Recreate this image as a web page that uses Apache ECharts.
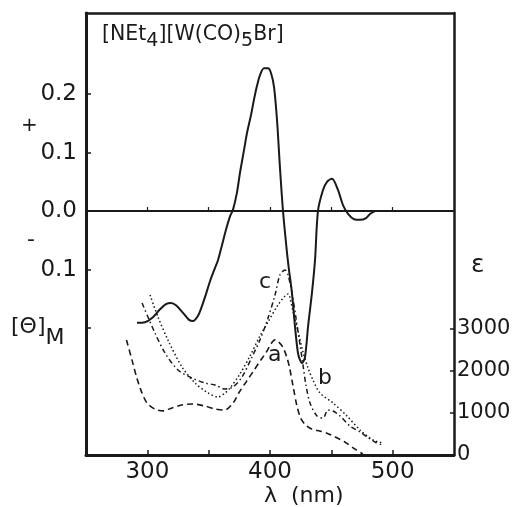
<!DOCTYPE html>
<html>
<head>
<meta charset="utf-8">
<script src="https://cdn.jsdelivr.net/npm/echarts@6/dist/echarts.min.js"></script>
<style>
  html, body { margin: 0; padding: 0; background: #fff; }
  #chart { width: 519px; height: 507px; }
</style>
</head>
<body>
<div id="chart"></div>
<script>
// CD spectrum [Θ]M, pairs of [nm, value]
const cdCurve = [
  [291.6, -0.191], [298.1, -0.190], [303.8, -0.183], [310.3, -0.168], [315.2, -0.159],
  [319.3, -0.157], [323.4, -0.161], [329.1, -0.174], [334.0, -0.186], [337.2, -0.188],
  [341.3, -0.179], [344.6, -0.162], [347.8, -0.142], [351.1, -0.120], [355.2, -0.097],
  [357.6, -0.084], [360.9, -0.058], [364.1, -0.032], [367.4, -0.009], [369.8, 0.002],
  [373.1, 0.032], [375.5, 0.065], [378.8, 0.104], [381.2, 0.133], [384.5, 0.164],
  [386.9, 0.190], [389.4, 0.214], [391.8, 0.232], [395.1, 0.244], [398.4, 0.244],
  [400.8, 0.236], [403.3, 0.212], [405.7, 0.156], [408.1, 0.075], [410.6, 0.000],
  [413.9, -0.072], [415.5, -0.101], [417.9, -0.140], [420.4, -0.198], [422.8, -0.243],
  [424.5, -0.255], [426.1, -0.260], [428.5, -0.250], [431.0, -0.198], [434.2, -0.140],
  [436.7, -0.084], [439.1, 0.000], [443.2, 0.036], [446.5, 0.050], [450.5, 0.055],
  [455.4, 0.036], [459.5, 0.010], [463.6, -0.005], [468.5, -0.014], [473.4, -0.015],
  [478.3, -0.012], [481.5, -0.005], [485.6, 0.000]
];

// absorption spectra, epsilon
const curveA = [
  [283, 2740], [287.5, 2260], [291.5, 1830], [295.6, 1480], [299.7, 1240], [306, 1095],
  [313, 1050], [320, 1120], [328, 1190], [337, 1215], [347, 1165], [355, 1095],
  [363, 1070], [370, 1240], [375, 1500], [381, 1760], [387, 2020], [392, 2240],
  [396.6, 2430], [400.7, 2640], [404, 2740], [407, 2690], [410.4, 2570], [413.7, 2330],
  [416, 2070], [418.6, 1670], [421.8, 1190], [425, 880], [429, 715], [434, 620],
  [440.6, 570], [446, 525], [453, 430], [461, 310], [469, 145], [475.6, 25]
];
const curveB = [
  [302.2, 3810], [308.7, 3286], [316.8, 2738], [328.3, 2095], [338.9, 1714], [349.5, 1476],
  [357.6, 1381], [363.3, 1476], [367.4, 1595], [375.5, 1929], [383.7, 2357], [391.8, 2833],
  [398.4, 3167], [406.5, 3571], [412.2, 3786], [414.7, 3833], [418.7, 3429], [422.8, 2952],
  [426.9, 2452], [431.0, 2071], [435.0, 1786], [440.8, 1476], [451.4, 1238], [462.8, 929],
  [473.4, 595], [484.0, 357], [492.1, 286]
];
const curveC = [
  [295.7, 3619], [300.5, 3286], [306.2, 2905], [314.4, 2429], [325.0, 2024], [336.4, 1833],
  [347.0, 1714], [355.2, 1667], [363.3, 1571], [369.8, 1619], [377.2, 1857], [385.3, 2333],
  [391.8, 2738], [398.4, 3262], [404.1, 3810], [408.1, 4286], [412.2, 4405], [414.7, 4286],
  [417.9, 3857], [421.2, 3262], [424.5, 2619], [426.9, 2143], [429.3, 1667], [432.6, 1238],
  [438.3, 929], [443.2, 881], [447.3, 1071], [451.4, 1048], [457.1, 929], [465.2, 690],
  [473.4, 548], [479.1, 429], [485.6, 310], [491.3, 238]
];

const xTicks = [300, 350, 400, 450, 500];
const xLabels = [300, 400, 500];
const cdTicks = [0.2, 0.1, 0, -0.1, -0.2];
const cdLabels = [0.2, 0.1, 0, -0.1];
const epsTicks = [0, 1000, 2000, 3000];

const ink = '#1a1a1a';
const font = 'DejaVu Sans';

const chart = echarts.init(document.getElementById('chart'));

const option = {
  backgroundColor: '#fff',
  animation: false,
  textStyle: { fontFamily: font, color: ink },
  grid: { left: 86, top: 13, width: 368, height: 442, containLabel: false },
  xAxis: [
    {
      type: 'value', position: 'bottom', min: 250, max: 550,
      axisLine: { onZero: false, lineStyle: { color: ink, width: 3 } },
      axisTick: { inside: true, length: 5, customValues: xTicks, lineStyle: { color: ink, width: 1.5 } },
      axisLabel: { customValues: xLabels, fontSize: 23, color: ink, margin: 6, fontFamily: font },
      splitLine: { show: false }
    },
    {
      type: 'value', position: 'top', min: 250, max: 550,
      axisLine: { onZero: false, lineStyle: { color: ink, width: 2.5 } },
      axisTick: { show: false }, axisLabel: { show: false }, splitLine: { show: false }
    },
    {
      // zero line of the CD axis
      type: 'value', position: 'bottom', min: 250, max: 550,
      axisLine: { onZero: true, onZeroAxisIndex: 0, lineStyle: { color: ink, width: 2 } },
      axisTick: { inside: true, length: 4, customValues: xTicks, lineStyle: { color: ink, width: 1.2 } },
      axisLabel: { show: false }, splitLine: { show: false }
    }
  ],
  yAxis: [
    {
      type: 'value', position: 'left', min: -0.417, max: 0.3385,
      axisLine: { onZero: false, lineStyle: { color: ink, width: 3 } },
      axisTick: { inside: true, length: 5, customValues: cdTicks, lineStyle: { color: ink, width: 1.5 } },
      axisLabel: {
        customValues: cdLabels, fontSize: 23, color: ink, margin: 9, fontFamily: font,
        formatter: v => Math.abs(v).toFixed(1)
      },
      splitLine: { show: false }
    },
    {
      type: 'value', position: 'right', min: 0, max: 10524,
      axisLine: { onZero: false, lineStyle: { color: ink, width: 2.5 } },
      axisTick: { inside: true, length: 4, customValues: epsTicks, lineStyle: { color: ink, width: 1.5 } },
      axisLabel: {
        customValues: epsTicks, fontSize: 21, color: ink, margin: 3, fontFamily: font,
        formatter: v => String(v), padding: [0, 0, 8, 0]
      },
      splitLine: { show: false }
    }
  ],
  graphic: [
    {
      type: 'text', left: 102, top: 24,
      style: {
        text: '[NEt{s|4}][W(CO){s|5}Br]', fill: ink, font: '20.5px "DejaVu Sans"',
        rich: { s: { fontSize: 19, fontFamily: font, fill: ink, padding: [13, 0, 0, 0] } }
      }
    },
    { type: 'text', left: 21, top: 116, style: { text: '+', fill: ink, font: '20px "DejaVu Sans"' } },
    { type: 'text', left: 27, top: 229, style: { text: '-', fill: ink, font: '22px "DejaVu Sans"' } },
    {
      type: 'text', left: 11, top: 316,
      style: {
        text: '[Θ]{s|M}', fill: ink, font: '22px "DejaVu Sans"',
        rich: { s: { fontSize: 22, fontFamily: font, fill: ink, padding: [22, 0, 0, 0] } }
      }
    },
    { type: 'text', left: 471, top: 253, style: { text: 'ε', fill: ink, font: '25px "DejaVu Sans"' } },
    { type: 'text', left: 259, top: 271, style: { text: 'c', fill: ink, font: '22px "DejaVu Sans"' } },
    { type: 'text', left: 268, top: 344, style: { text: 'a', fill: ink, font: '22px "DejaVu Sans"' } },
    { type: 'text', left: 318, top: 367, style: { text: 'b', fill: ink, font: '22px "DejaVu Sans"' } },
    { type: 'text', left: 264, top: 485, style: { text: 'λ  (nm)', fill: ink, font: '22px "DejaVu Sans"' } }
  ],
  series: [
    {
      name: 'CD', type: 'line', xAxisIndex: 0, yAxisIndex: 0, data: cdCurve,
      smooth: 0.3, showSymbol: false, symbol: 'none',
      lineStyle: { color: ink, width: 2 }
    },
    {
      name: 'a', type: 'line', xAxisIndex: 0, yAxisIndex: 1, data: curveA,
      smooth: 0.3, showSymbol: false, symbol: 'none',
      lineStyle: { color: ink, width: 1.6, type: [6, 4] }
    },
    {
      name: 'b', type: 'line', xAxisIndex: 0, yAxisIndex: 1, data: curveB,
      smooth: 0.3, showSymbol: false, symbol: 'none',
      lineStyle: { color: ink, width: 1.5, type: [1.5, 2.5] }
    },
    {
      name: 'c', type: 'line', xAxisIndex: 0, yAxisIndex: 1, data: curveC,
      smooth: 0.3, showSymbol: false, symbol: 'none',
      lineStyle: { color: ink, width: 1.5, type: [5, 3, 1.5, 3] }
    }
  ]
};

chart.setOption(option);
</script>
</body>
</html>
